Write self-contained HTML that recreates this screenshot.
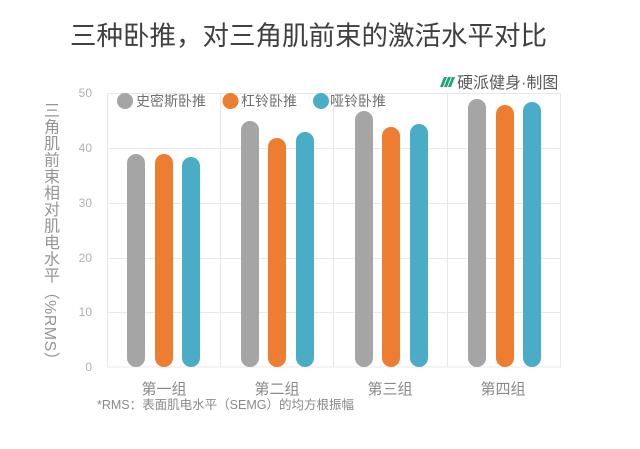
<!DOCTYPE html>
<html>
<head>
<meta charset="utf-8">
<style>
  html,body{margin:0;padding:0;background:#fff;}
  body{width:640px;height:449px;position:relative;overflow:hidden;font-family:"Liberation Sans","Noto Sans CJK SC",sans-serif;}
  .title{position:absolute;left:0;width:617px;top:21px;text-align:center;font-size:26.5px;line-height:30px;color:#404040;font-family:"Liberation Sans","Noto Sans CJK SC",sans-serif;}
  .ytitle{position:absolute;left:40px;top:102px;writing-mode:vertical-rl;font-size:16px;line-height:18px;color:#959595;letter-spacing:0.5px;font-family:"Liberation Sans","Noto Sans CJK SC",sans-serif;}
  svg{position:absolute;left:0;top:0;}
  svg text{font-family:"Liberation Sans","Noto Sans CJK SC",sans-serif;}
</style>
</head>
<body>
<div class="title">三种卧推，对三角肌前束的激活水平对比</div>
<div class="ytitle">三角肌前束相对肌电水平（%RMS）</div>
<svg width="640" height="449" viewBox="0 0 640 449">
  <g stroke="#e8e8e8" stroke-width="1" fill="none">
    <rect x="107.5" y="93.5" width="453" height="273.5"/>
    <line x1="107" y1="148.5" x2="560" y2="148.5"/>
    <line x1="107" y1="203.5" x2="560" y2="203.5"/>
    <line x1="107" y1="258.5" x2="560" y2="258.5"/>
    <line x1="107" y1="312.5" x2="560" y2="312.5"/>
    <line x1="220.5" y1="93" x2="220.5" y2="367"/>
    <line x1="333.5" y1="93" x2="333.5" y2="367"/>
    <line x1="447.5" y1="93" x2="447.5" y2="367"/>
  </g>
  <g font-size="12" fill="#b0b0b0" text-anchor="end">
    <text x="92" y="97">50</text>
    <text x="92" y="152">40</text>
    <text x="92" y="207">30</text>
    <text x="92" y="262">20</text>
    <text x="92" y="316">10</text>
    <text x="92" y="371">0</text>
  </g>
  <g>
    <rect x="127" y="154" width="18" height="213" rx="9" fill="#a5a5a5"/>
    <rect x="155" y="154" width="18" height="213" rx="9" fill="#ed7d31"/>
    <rect x="182" y="157" width="18" height="210" rx="9" fill="#4bacc6"/>

    <rect x="241" y="121" width="18" height="246" rx="9" fill="#a5a5a5"/>
    <rect x="268" y="138" width="18" height="229" rx="9" fill="#ed7d31"/>
    <rect x="296" y="132" width="18" height="235" rx="9" fill="#4bacc6"/>

    <rect x="355" y="111" width="18" height="256" rx="9" fill="#a5a5a5"/>
    <rect x="382" y="127" width="18" height="240" rx="9" fill="#ed7d31"/>
    <rect x="410" y="124" width="18" height="243" rx="9" fill="#4bacc6"/>

    <rect x="468" y="99" width="18" height="268" rx="9" fill="#a5a5a5"/>
    <rect x="496" y="105" width="18" height="262" rx="9" fill="#ed7d31"/>
    <rect x="523" y="102" width="18" height="265" rx="9" fill="#4bacc6"/>
  </g>
  <g font-size="14" fill="#707070">
    <circle cx="125" cy="101" r="8" fill="#a5a5a5"/>
    <text x="136" y="106">史密斯卧推</text>
    <circle cx="230.5" cy="101" r="8" fill="#ed7d31"/>
    <text x="241" y="106">杠铃卧推</text>
    <circle cx="321" cy="101" r="8" fill="#4bacc6"/>
    <text x="330" y="106">哑铃卧推</text>
  </g>
  <g fill="#1fa37c">
    <polygon points="444,77 447,77 443,87 440,87"/>
    <polygon points="448,77 451,77 447,87 444,87"/>
    <polygon points="452,77 455,77 451,87 448,87"/>
  </g>
  <text x="457" y="88" font-size="16" fill="#5a5a5a">硬派健身·制图</text>
  <g font-size="15" fill="#8a8a8a" text-anchor="middle">
    <text x="164" y="394">第一组</text>
    <text x="277" y="394">第二组</text>
    <text x="390" y="394">第三组</text>
    <text x="503" y="394">第四组</text>
  </g>
  <text x="97" y="409" font-size="12.5" fill="#8a8a8a">*RMS：表面肌电水平（SEMG）的均方根振幅</text>
</svg>
</body>
</html>
